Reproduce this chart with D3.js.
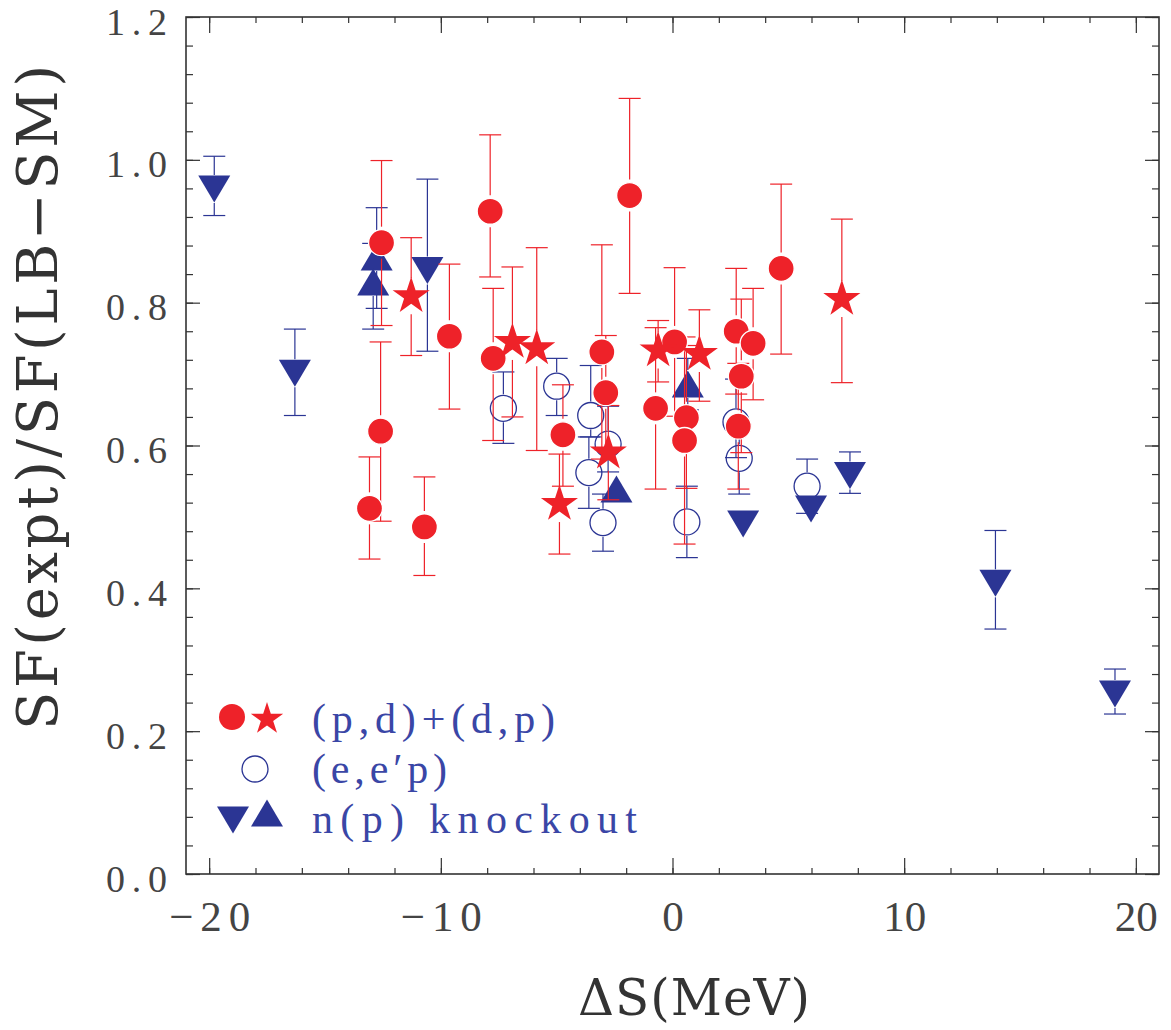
<!DOCTYPE html>
<html>
<head>
<meta charset="utf-8">
<script src="https://cdn.jsdelivr.net/npm/d3@7"></script>
<style>
  body { margin: 0; background: #fff; }
  svg { display: block; }
  text { font-family: "Liberation Serif", "Times New Roman", serif; }
  text.title { font-family: "DejaVu Serif", serif; }
</style>
</head>
<body>
<script>
// data: [dS (MeV), SF ratio, lower error, upper error]
const pdCircles = [
  [-13.08, 0.512, 0.441, 0.584],
  [-12.60, 0.620, 0.494, 0.745],
  [-12.56, 0.884, 0.768, 0.999],
  [-10.71, 0.486, 0.418, 0.556],
  [-9.63, 0.753, 0.651, 0.854],
  [-7.87, 0.928, 0.836, 1.035],
  [-7.74, 0.722, 0.607, 0.820],
  [-4.73, 0.615, 0.543, 0.685],
  [-3.05, 0.731, 0.581, 0.881],
  [-2.88, 0.674, 0.594, 0.754],
  [-1.85, 0.950, 0.813, 1.086],
  [-0.73, 0.652, 0.539, 0.765],
  [0.09, 0.745, 0.641, 0.849],
  [0.60, 0.639, 0.540, 0.740],
  [0.52, 0.607, 0.462, 0.752],
  [2.75, 0.760, 0.672, 0.848],
  [3.48, 0.743, 0.664, 0.820],
  [2.97, 0.697, 0.590, 0.805],
  [2.84, 0.627, 0.539, 0.715],
  [4.69, 0.848, 0.728, 0.966]
];
const pdStars = [
  [-11.28, 0.809, 0.726, 0.891],
  [-6.91, 0.745, 0.640, 0.850],
  [-5.86, 0.736, 0.593, 0.877],
  [-4.88, 0.518, 0.448, 0.588],
  [-2.77, 0.590, 0.524, 0.656],
  [-0.62, 0.733, 0.689, 0.775],
  [1.16, 0.728, 0.662, 0.790],
  [7.31, 0.805, 0.688, 0.917]
];
const eepCircles = [
  [-7.30, 0.652, 0.603, 0.703],
  [-5.00, 0.683, 0.642, 0.722],
  [-3.53, 0.642, 0.612, 0.712],
  [-3.61, 0.562, 0.512, 0.612],
  [-3.00, 0.492, 0.452, 0.532],
  [-2.78, 0.602, 0.563, 0.655],
  [0.62, 0.493, 0.443, 0.543],
  [2.74, 0.633, 0.583, 0.693],
  [2.88, 0.582, 0.532, 0.623],
  [5.81, 0.543, 0.505, 0.581]
];
const knockDown = [
  [-19.78, 0.959, 0.922, 1.005],
  [-16.30, 0.701, 0.642, 0.763],
  [-10.58, 0.845, 0.732, 0.973],
  [3.05, 0.490, 0.490, 0.490],
  [5.98, 0.511, 0.511, 0.511],
  [7.66, 0.558, 0.533, 0.591],
  [13.94, 0.407, 0.343, 0.481],
  [19.10, 0.252, 0.224, 0.287]
];
const knockUp = [
  [-12.77, 0.864, 0.792, 0.933],
  [-12.92, 0.829, 0.763, 0.883],
  [-2.42, 0.539, 0.539, 0.539],
  [0.66, 0.686, 0.650, 0.722]
];

const xMajor = [-20, -10, 0, 10, 20];
const xMinor = d3.range(-20, 21, 2);
const yMajor = [0, 0.2, 0.4, 0.6, 0.8, 1.0, 1.2];
const yMinor = d3.range(0, 1.201, 0.04);

const legendLabels = ["(p,d)+(d,p)", "(e,e\u2032p)", "n(p) knockout"];

const width = 1171, height = 1030;
const plotL = 186, plotR = 1159, plotT = 17, plotB = 874;

const red = "#ee2229", blue = "#2b3594";

const svg = d3.select("body").append("svg")
  .attr("width", width)
  .attr("height", height);

const x = d3.scaleLinear().domain([-21, 21]).range([plotL, plotR]);
const y = d3.scaleLinear().domain([0, 1.2]).range([plotB, plotT]);

// ticks, all pointing inward
function ticks(axis, tx, ty, size) {
  const g = svg.append("g")
    .attr("transform", `translate(${tx},${ty})`)
    .call(axis.tickSize(size).tickFormat(""));
  g.select(".domain").remove();
  g.selectAll("line").attr("stroke", "#333").attr("stroke-width", 1.2);
}
ticks(d3.axisBottom(x).tickValues(xMinor), 0, plotB, -6);
ticks(d3.axisBottom(x).tickValues(xMajor), 0, plotB, -16);
ticks(d3.axisTop(x).tickValues(xMinor), 0, plotT, -6);
ticks(d3.axisTop(x).tickValues(xMajor), 0, plotT, -16);
ticks(d3.axisLeft(y).tickValues(yMinor), plotL, 0, -7);
ticks(d3.axisLeft(y).tickValues(yMajor), plotL, 0, -14);
ticks(d3.axisRight(y).tickValues(yMinor), plotR, 0, -7);
ticks(d3.axisRight(y).tickValues(yMajor), plotR, 0, -14);

svg.append("rect")
  .attr("x", plotL).attr("y", plotT)
  .attr("width", plotR - plotL).attr("height", plotB - plotT)
  .attr("fill", "none").attr("stroke", "#333").attr("stroke-width", 1.6);

// tick labels
const yl = svg.append("g")
  .attr("transform", `translate(${plotL},0)`)
  .call(d3.axisLeft(y).tickValues(yMajor).tickSize(0).tickPadding(19).tickFormat(d3.format(".1f")));
yl.select(".domain").remove();
yl.attr("font-family", null);
yl.selectAll("text")
  .attr("dy", "17px")
  .attr("font-size", 38)
  .attr("fill", "#444")
  .attr("textLength", 61);

const xl = svg.append("g")
  .attr("transform", `translate(0,${plotB})`)
  .call(d3.axisBottom(x).tickValues(xMajor).tickSize(0).tickFormat(d3.format("d")));
xl.select(".domain").remove();
xl.attr("font-family", null);
xl.selectAll("text")
  .attr("y", 57).attr("dy", 0)
  .attr("font-size", 43)
  .attr("fill", "#444")
  .attr("textLength", d => d < 0 ? 81 : null);

// axis titles
svg.append("text")
  .attr("class", "title")
  .attr("transform", "translate(57,730) rotate(-90)")
  .attr("font-size", 56)
  .attr("fill", "#333")
  .attr("textLength", 665)
  .text("SF(expt)/SF(LB\u2212SM)");

svg.append("text")
  .attr("class", "title")
  .attr("x", 578).attr("y", 1015)
  .attr("font-size", 50)
  .attr("fill", "#333")
  .attr("textLength", 232)
  .text("\u0394S(MeV)");

// marker shapes
const circlePath = d3.symbol(d3.symbolCircle, Math.PI * 13 * 13)();
const starPath = d3.symbol(d3.symbolStar, 19.5 * 19.5 / 0.8908130915)();
const downTri = "M-16,-13.5L16,-13.5L0,13.5Z";
const upTri = "M-16,13.5L16,13.5L0,-13.5Z";

function errorBars(data, color, gapTop, gapBot) {
  const g = svg.append("g").attr("stroke", color).attr("stroke-width", 1.2).attr("fill", "none");
  data.forEach(d => {
    const cx = x(d[0]), cy = y(d[1]), lo = y(d[2]), hi = y(d[3]);
    if (cy - hi > gapTop) {
      g.append("line").attr("x1", cx).attr("x2", cx).attr("y1", cy - gapTop).attr("y2", hi);
      g.append("line").attr("x1", cx - 11).attr("x2", cx + 11).attr("y1", hi).attr("y2", hi);
    }
    if (lo - cy > gapBot) {
      g.append("line").attr("x1", cx).attr("x2", cx).attr("y1", cy + gapBot).attr("y2", lo);
      g.append("line").attr("x1", cx - 11).attr("x2", cx + 11).attr("y1", lo).attr("y2", lo);
    }
  });
}

function markers(data, path, fill, stroke) {
  svg.append("g").selectAll("path")
    .data(data)
    .join("path")
    .attr("d", path)
    .attr("transform", d => `translate(${x(d[0])},${y(d[1])})`)
    .attr("fill", fill)
    .attr("stroke", stroke)
    .attr("stroke-width", stroke === "none" ? 0 : 1.3);
}

errorBars(eepCircles, blue, 14, 14);
errorBars(knockDown, blue, 14, 14);
errorBars(knockUp, blue, 14, 14);
markers(eepCircles, circlePath, "none", blue);
markers(knockDown, downTri, blue, "none");
markers(knockUp, upTri, blue, "none");

errorBars(pdCircles, red, 16, 16);
errorBars(pdStars, red, 18, 18);
markers(pdCircles, circlePath, red, "#fff");
markers(pdStars, starPath, red, "none");

// legend
const lg = svg.append("g").attr("transform", "translate(232,0)");
lg.append("path").attr("d", circlePath).attr("transform", "translate(0,717)").attr("fill", red);
lg.append("path").attr("d", d3.symbol(d3.symbolStar, 17 * 17 / 0.8908130915)()).attr("transform", "translate(35,719)").attr("fill", red);
lg.append("path").attr("d", circlePath).attr("transform", "translate(23,769)").attr("fill", "none").attr("stroke", blue).attr("stroke-width", 1.3);
lg.append("path").attr("d", downTri).attr("transform", "translate(1,820)").attr("fill", blue);
lg.append("path").attr("d", upTri).attr("transform", "translate(35,813)").attr("fill", blue);

const legendWidths = [243, 135, 325];
lg.selectAll("text.lab")
  .data(legendLabels)
  .join("text")
  .attr("class", "lab")
  .attr("x", 80)
  .attr("y", (d, i) => 733 + i * 50)
  .attr("font-size", 42)
  .attr("fill", "#3a46a6")
  .attr("textLength", (d, i) => legendWidths[i])
  .text(d => d);
</script>
</body>
</html>
